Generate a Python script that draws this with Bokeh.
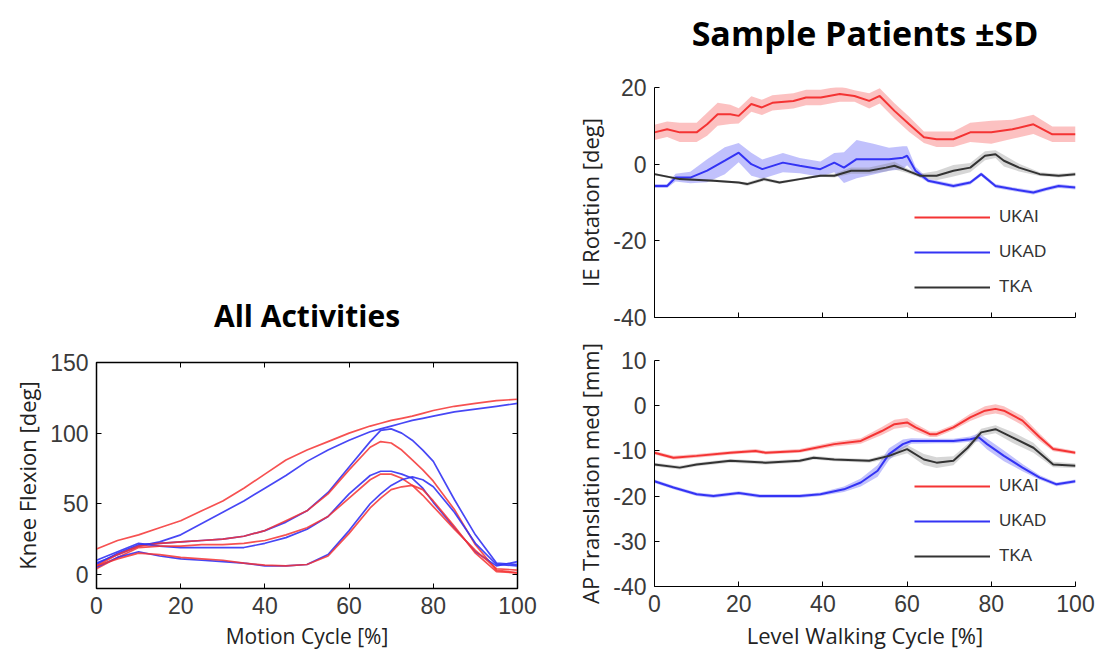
from bokeh.plotting import figure
from bokeh.layouts import row, column
from bokeh.models import Legend, LegendItem, LinearAxis, Range1d, FixedTicker
from bokeh.embed import file_html
from bokeh.resources import INLINE

# ---------------- data: All Activities (knee flexion) ----------------
kf_x = [0, 5, 10, 15, 20, 25, 30, 35, 40, 45, 50, 55, 60, 65, 67.5, 70, 72.5, 75, 77.5, 80, 85, 90, 95, 100]
kf_red_a = [18, 24, 28, 33, 38, 45, 52, 61, 71, 81, 88, 94, 100, 105, 107, 109, 110.5, 112, 114, 116, 119, 121, 123, 124]
kf_blue_a = [8, 14, 20, 23, 28, 36, 44, 52, 61, 70, 80, 88, 95, 101, 103, 105, 107, 109, 110.5, 112, 115, 117, 119, 121]
kf_red_b = [6, 14, 20, 22, 23, 24, 25, 27, 31, 38, 45, 57, 74, 90, 94, 93, 88, 81, 74, 66, 46, 21, 3, 1]
kf_blue_b = [7, 15, 21, 22, 23, 24, 25, 27, 31, 37, 45, 58, 76, 94, 102, 103, 100, 95, 88, 80, 53, 28, 8, 7]
kf_red_c = [4, 12, 19, 20, 20, 21, 21, 22, 24, 28, 33, 41, 54, 67, 71, 71, 68, 63, 56, 48, 32, 17, 4, 3]
kf_blue_c = [10, 16, 22, 20, 19, 19, 19, 19, 22, 26, 32, 41, 57, 70, 73, 73, 71, 68, 61, 51, 33, 16, 6, 9]
kf_red_d = [6, 11, 15, 14, 12, 11, 10, 8, 6.5, 6, 7, 13, 29, 47, 54, 60, 62, 63, 60, 52, 34, 15, 2, 1]
kf_blue_d = [5, 12, 16, 13, 11, 10, 9, 8, 6, 6, 7, 14, 31, 50, 57, 63, 67, 69, 67, 62, 44, 22, 7, 6]

# ---------------- data: IE rotation ----------------
ie_ukai_x = [0, 3, 6, 10, 12.5, 15, 18, 20, 23, 25.5, 28, 33, 36, 39.5, 44, 47.5, 51, 53.5, 57, 60.5, 64, 67, 71, 75, 80, 85, 90, 94.5, 100]
ie_ukai_y = [8.3, 9.1, 8.3, 8.3, 10.4, 13, 13, 12.6, 15.7, 14.8, 16, 16.5, 17.4, 17.4, 18.3, 17.8, 16.5, 17.8, 13.9, 10.4, 7, 6.5, 6.5, 8.3, 8.3, 9.1, 10.4, 7.8, 7.8]
ie_ukai_sd = [2, 2, 2.5, 2.5, 3, 3, 2.5, 2, 2, 2, 2, 2, 2, 2, 2, 1.5, 2, 2, 2, 2, 1.5, 2, 2, 2.5, 3, 2.5, 2.5, 2, 2]

ie_ukad_x = [0, 3, 5, 8.5, 12.5, 16.7, 20, 23, 25.6, 30.5, 34.5, 39.4, 42.7, 45, 48, 52, 55.7, 59, 60, 62, 65, 71, 75, 77.6, 81, 85, 90, 93, 96, 100]
ie_ukad_y = [-5.7, -5.7, -3.5, -3.5, -1.7, 0.9, 3, 0, -1.3, 0.4, -0.4, -1.3, 0.4, -0.9, 1.3, 1.3, 1.3, 1.7, 2.2, -1.7, -4.3, -5.7, -4.8, -2.6, -5.7, -6.5, -7.4, -6.5, -5.7, -6.1]
ie_ukad_sd = [0.5, 0.5, 1, 1.5, 3, 3.5, 2.5, 3, 2.5, 2.5, 2, 2, 2.5, 4, 5, 4, 3, 3, 2.5, 1, 0.5, 0.5, 0.5, 0.5, 0.5, 0.5, 0.5, 0.5, 0.5, 0.5]

ie_tka_x = [0, 6, 14, 20, 22, 26, 29.7, 34.5, 39.4, 42.7, 46.7, 51, 55, 57, 60, 63, 67, 71, 75, 78.5, 81, 83, 86.6, 91.5, 96, 100]
ie_tka_y = [-2.6, -3.9, -4.3, -4.8, -5.2, -3.9, -4.8, -3.9, -3, -3, -1.7, -1.7, -0.9, -0.4, -1.7, -3, -3, -1.7, -0.9, 2.2, 2.6, 0.9, -0.9, -2.6, -3, -2.6]
ie_tka_sd = [0.3, 0.3, 0.3, 0.3, 0.5, 0.5, 0.4, 0.3, 0.3, 0.5, 0.8, 0.8, 1, 1, 0.6, 0.5, 1.2, 1.5, 1.2, 1.2, 1, 1.5, 1, 0.5, 0.5, 0.5]

# ---------------- data: AP translation ----------------
ap_ukai_x = [0, 4.5, 10, 18, 24, 26.4, 34.5, 42.7, 49, 54, 57, 60, 62, 65.4, 67, 71, 75, 78.5, 81, 83, 87.4, 91.5, 94.7, 100]
ap_ukai_y = [-10.4, -11.5, -11.1, -10.4, -10, -10.4, -10, -8.5, -7.8, -5.6, -4.1, -3.7, -4.8, -6.3, -6.3, -4.8, -2.6, -1.1, -0.7, -1.1, -3.3, -7, -9.6, -10.4]
ap_ukai_sd = [0.4, 0.4, 0.4, 0.4, 0.4, 0.4, 0.4, 0.5, 0.6, 0.9, 1, 1, 0.8, 0.6, 0.6, 0.6, 0.8, 1, 1, 1, 1, 0.8, 0.5, 0.4]

ap_ukad_x = [0, 4.5, 10, 14, 20, 25, 34.5, 39.4, 45, 49, 53, 55.7, 59, 61, 67, 71, 75, 77, 79, 83, 87.4, 91.5, 95.5, 100]
ap_ukad_y = [-16.7, -18.1, -19.6, -20, -19.3, -20, -20, -19.6, -18.5, -17, -14.4, -10.7, -8.5, -7.8, -7.8, -7.8, -7.4, -7, -8.5, -11.1, -13.7, -15.9, -17.4, -16.7]
ap_ukad_sd = [0.4, 0.4, 0.4, 0.4, 0.4, 0.4, 0.4, 0.4, 0.6, 0.9, 1.3, 1.3, 1, 0.6, 0.5, 0.5, 0.6, 0.9, 1.2, 1.2, 0.8, 0.5, 0.4, 0.4]

ap_tka_x = [0, 6, 10, 18, 26.4, 34.5, 37.8, 42.7, 51, 55.7, 60, 64, 67, 71, 74.4, 77.6, 81, 85, 90, 94.7, 100]
ap_tka_y = [-13, -13.7, -13, -12.2, -12.6, -12.2, -11.5, -11.9, -12.2, -11.1, -9.6, -11.9, -12.6, -12.2, -9.3, -5.9, -5.2, -7, -9.3, -13, -13.3]
ap_tka_sd = [0.4, 0.4, 0.4, 0.4, 0.4, 0.4, 0.4, 0.4, 0.4, 0.6, 0.9, 1.2, 1.2, 1, 0.8, 0.8, 0.9, 1.2, 1.1, 0.6, 0.5]

x_ticks = [0, 20, 40, 60, 80, 100]
kf_ticks = [0, 50, 100, 150]
ie_ticks = [-40, -20, 0, 20]
ap_ticks = [-40, -30, -20, -10, 0, 10]
legend_names = ["UKAI", "UKAD", "TKA"]
title_left = "All Activities"
title_right = "Sample Patients \u00b1SD"

RED = "#f43333"
BLUE = "#3333f4"
BLACK = "#333333"
TICK_FONT = "Liberation Sans"
LABEL_FONT = "Open Sans"


def style_axis(ax, ticks, show_labels=True, label_size="22px"):
    ax.ticker = FixedTicker(ticks=ticks)
    ax.major_label_overrides = {t: str(t) for t in ticks}
    ax.major_tick_in = 5
    ax.major_tick_out = 0
    ax.minor_tick_line_color = None
    ax.axis_line_color = "black"
    ax.major_tick_line_color = "black"
    ax.major_label_text_font = TICK_FONT
    if show_labels:
        ax.major_label_text_font_size = "23px"
        ax.major_label_text_color = "#3a3a3a"
    else:
        ax.major_label_text_font_size = "1px"
        ax.major_label_text_color = None
    ax.major_label_standoff = 8
    ax.axis_label_text_font = LABEL_FONT
    ax.axis_label_text_font_size = label_size
    ax.axis_label_text_font_style = "normal"
    ax.axis_label_text_color = "#222222"
    ax.axis_label_standoff = 5


def title_fig(text, size, width, left, right, top):
    t = figure(frame_width=width, frame_height=3, output_backend="svg", toolbar_location=None,
               min_border_left=left, min_border_right=right, min_border_top=top, min_border_bottom=0,
               x_axis_location=None, y_axis_location=None, title=text)
    t.grid.visible = False
    t.outline_line_color = None
    t.title.align = "center"
    t.title.text_font = LABEL_FONT
    t.title.text_font_size = size
    t.title.text_font_style = "bold"
    t.title.text_color = "black"
    t.title.standoff = 10
    return t


# ---------------- left column ----------------
t1 = title_fig(title_left, "30px", 421, 96, 23, 340)

p1 = figure(frame_width=421, frame_height=226, x_range=Range1d(0, 100), y_range=Range1d(-10, 150),
            output_backend="svg", toolbar_location=None,
            min_border_left=96, min_border_right=23, min_border_top=19, min_border_bottom=66,
            x_axis_label="Motion Cycle [%]", y_axis_label="Knee Flexion [deg]")
p1.grid.visible = False
p1.outline_line_color = "black"
p1.outline_line_width = 1.5
style_axis(p1.xaxis[0], x_ticks, label_size="21px")
style_axis(p1.yaxis[0], kf_ticks)
ax_top = LinearAxis()
style_axis(ax_top, x_ticks, show_labels=False)
p1.add_layout(ax_top, "above")
ax_right = LinearAxis()
style_axis(ax_right, kf_ticks, show_labels=False)
p1.add_layout(ax_right, "right")

for red, blue in [(kf_red_a, kf_blue_a), (kf_red_b, kf_blue_b), (kf_red_c, kf_blue_c), (kf_red_d, kf_blue_d)]:
    p1.line(kf_x, blue, line_color=BLUE, line_width=1.7, line_alpha=0.9)
    p1.line(kf_x, red, line_color=RED, line_width=1.7, line_alpha=0.85)


def panel(fig, series):
    items = []
    for (xs, ys, sd, col, band, name) in series:
        lo = [y - s for y, s in zip(ys, sd)]
        hi = [y + s for y, s in zip(ys, sd)]
        fig.varea(x=xs, y1=lo, y2=hi, fill_color=band, fill_alpha=0.3)
    for (xs, ys, sd, col, band, name) in series:
        r = fig.line(xs, ys, line_color=col, line_width=2)
        items.append(LegendItem(label=name, renderers=[r]))
    leg = Legend(items=items, location=(260, 20), border_line_color=None, background_fill_alpha=0,
                 glyph_width=76, glyph_height=20, label_height=20, spacing=15, label_standoff=9,
                 padding=0, margin=0, label_text_font="Liberation Sans", label_text_font_size="17px",
                 label_text_color="#333333")
    fig.add_layout(leg, "center")


# ---------------- right column ----------------
t2 = title_fig(title_right, "34px", 421, 114, 22, 60)

p2 = figure(frame_width=421, frame_height=230, x_range=Range1d(0, 100), y_range=Range1d(-40, 20),
            output_backend="svg", toolbar_location=None,
            min_border_left=114, min_border_right=22, min_border_top=24, min_border_bottom=20,
            y_axis_label="IE Rotation [deg]")
p2.grid.visible = False
p2.outline_line_color = None
style_axis(p2.xaxis[0], x_ticks, show_labels=False)
style_axis(p2.yaxis[0], ie_ticks)
panel(p2, [(ie_ukai_x, ie_ukai_y, ie_ukai_sd, RED, RED, legend_names[0]),
           (ie_ukad_x, ie_ukad_y, ie_ukad_sd, BLUE, BLUE, legend_names[1]),
           (ie_tka_x, ie_tka_y, ie_tka_sd, BLACK, "#777777", legend_names[2])])

p3 = figure(frame_width=421, frame_height=226, x_range=Range1d(0, 100), y_range=Range1d(-40, 10),
            output_backend="svg", toolbar_location=None,
            min_border_left=114, min_border_right=22, min_border_top=23, min_border_bottom=68,
            x_axis_label="Level Walking Cycle [%]", y_axis_label="AP Translation med [mm]")
p3.grid.visible = False
p3.outline_line_color = None
style_axis(p3.xaxis[0], x_ticks)
style_axis(p3.yaxis[0], ap_ticks)
panel(p3, [(ap_ukai_x, ap_ukai_y, ap_ukai_sd, RED, RED, legend_names[0]),
           (ap_ukad_x, ap_ukad_y, ap_ukad_sd, BLUE, BLUE, legend_names[1]),
           (ap_tka_x, ap_tka_y, ap_tka_sd, BLACK, "#777777", legend_names[2])])

layout = row(column(t1, p1), column(t2, p2, p3))
open("out.html", "w").write(file_html(layout, INLINE))
